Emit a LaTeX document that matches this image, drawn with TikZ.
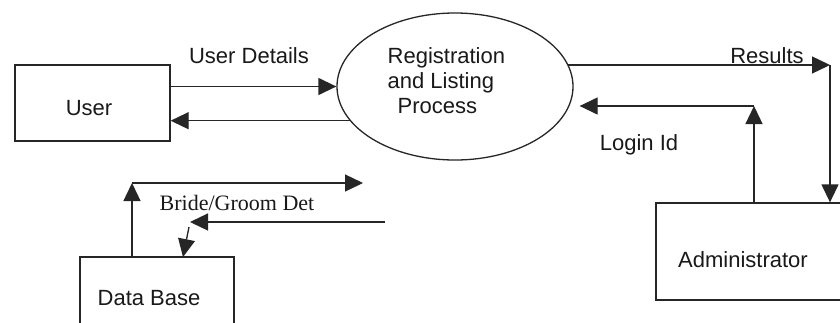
\documentclass[tikz,border=0pt]{standalone}
\usepackage{fontspec}
\setmainfont{Liberation Sans}
\newfontfamily\serifdet{Liberation Serif}
\usetikzlibrary{arrows.meta,shapes.geometric}
\begin{document}
\begin{tikzpicture}[x=1pt,y=1pt,
  line width=1.3pt, draw=black!85,
  arr/.style={-{Triangle[length=18pt,width=17pt]}},
  box/.style={draw, rectangle, inner sep=0pt},
  lbl/.style={anchor=base, inner sep=0pt, font=\fontsize{22}{25}\selectfont, text=black!90}]
\clip (0,0) rectangle (840,-322);
\fill[white] (0,0) rectangle (840,-322);
% boxes
\node[box, minimum width=155pt, minimum height=76pt] (user) at (92.5,-103) {};
\node[draw, ellipse, minimum width=236pt, minimum height=147pt, inner sep=0pt] (ell) at (455,-86.5) {};
\node[box, minimum width=192pt, minimum height=97pt] (admin) at (752,-251.5) {};
\node[box, minimum width=154pt, minimum height=100pt] (db) at (157,-307) {};
% texts
\node[lbl] (tuser) at (89,-115) {User};
\node[lbl, anchor=north west, align=left, inner sep=0pt] (tell) at (387,-47)
  {Registration\\and Listing\\\hspace{10pt}Process};
\node[lbl] (tadmin) at (743,-267) {Administrator};
\node[lbl] (tdb) at (149,-305) {Data Base};
\node[lbl] (tud) at (249,-63) {User Details};
\node[lbl] (tres) at (767,-63) {Results};
\node[lbl] (tlog) at (639,-150) {Login Id};
\node[lbl, font=\serifdet\fontsize{22}{25}\selectfont] (tbg) at (237,-210) {Bride/Groom Det};
% coordinates
\coordinate (rc) at (830,-65);
\coordinate (lc) at (754,-106);
\coordinate (bc) at (132,-183);
\coordinate (bt) at (363,-183);
\coordinate (bs) at (385,-222);
\coordinate (bk) at (190,-222);
\coordinate (bd0) at (189,-227);
\coordinate (bd) at (183,-257);
% connectors
\draw[arr] (user.east |- ell.west) -- (ell.west);
\draw[arr] (ell.198) -- (ell.198 -| user.east);
\draw[arr] (rc -| ell.11) -- (rc);
\draw[arr] (rc) -- (rc |- admin.north);
\draw[arr] (lc |- admin.north) -- (lc);
\draw[arr, shorten >=6pt] (lc) -- (lc -| ell.east);
\draw[arr] (bc |- db.north) -- (bc);
\draw[arr] (bc) -- (bt);
\draw[arr] (bs) -- (bk);
\draw[arr] (bd0) -- (bd);
\end{tikzpicture}
\end{document}
